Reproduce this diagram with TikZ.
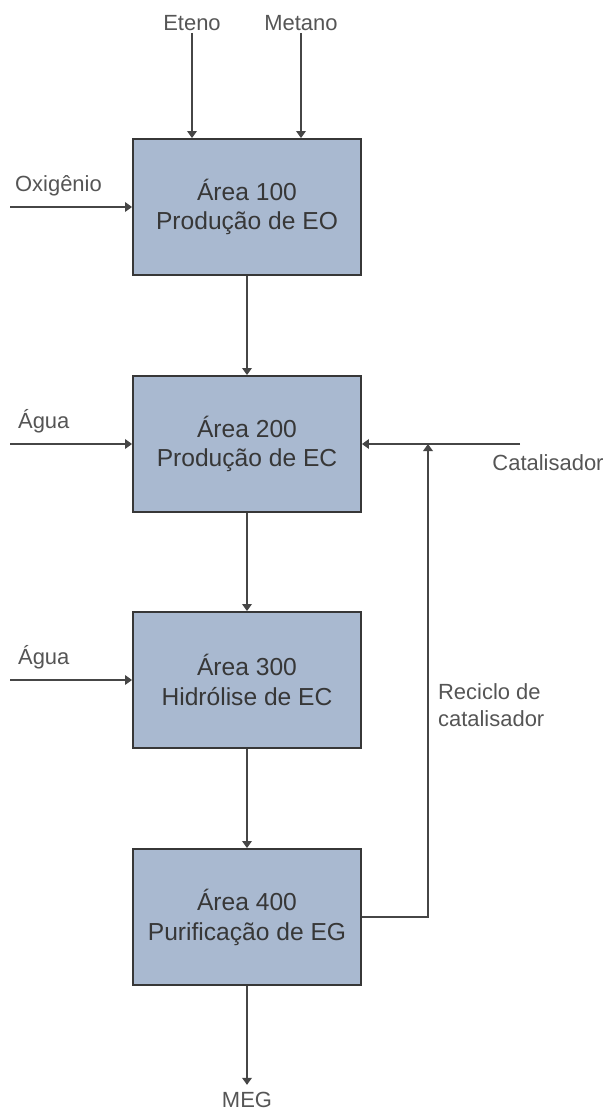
\documentclass[tikz,border=0pt]{standalone}
\usepackage{fontspec}
\setmainfont{Liberation Sans}
\usetikzlibrary{arrows.meta}

\definecolor{boxfill}{RGB}{169,185,208}
\definecolor{boxline}{RGB}{55,55,55}
\definecolor{flowline}{RGB}{70,70,70}
\definecolor{labeltext}{RGB}{85,85,85}

\tikzset{
    area/.style={draw=boxline, fill=boxfill, line width=1.1pt, minimum width=228*0.02cm,
        minimum height=136*0.02cm, align=center, text=boxline,
        font=\fontsize{14}{17}\selectfont},
    stream/.style={text=labeltext, font=\fontsize{12.5}{15.5}\selectfont, inner sep=1pt},
    flow/.style={draw=flowline, line width=0.8pt, -{Triangle[width=5.5pt,length=4pt]}}
}

\begin{document}
\begin{tikzpicture}[x=0.02cm, y=-0.02cm]
        \useasboundingbox (0,0) rectangle (606,1112);
        \def\xc{247}

        % process areas
        \node[area] (b100) at (\xc,207) {Área 100\\Produção de EO};
        \node[area] (b200) at (\xc,444) {Área 200\\Produção de EC};
        \node[area] (b300) at (\xc,680) {Área 300\\Hidrólise de EC};
        \node[area] (b400) at (\xc,917) {Área 400\\Purificação de EG};

        \draw[flow] (b100) -- (b200);
        \draw[flow] (b200) -- (b300);
        \draw[flow] (b300) -- (b400);

        % feeds of area 100
        \node[stream] (eteno) at (192,23) {Eteno};
        \node[stream] (metano) at (301,23) {Metano};
        \draw[flow] (eteno.south) -- (b100.north -| eteno.south);
        \draw[flow] (metano.south) -- (b100.north -| metano.south);
        \coordinate (oxin) at (10,207);
        \node[stream, anchor=south west] (oxi) at (13,198) {Oxigênio};
        \draw[flow] (oxin) -- (b100.west);

        % water
        \coordinate (agin1) at (10,444);
        \node[stream, anchor=south west] (agua1) at (16,435) {Água};
        \draw[flow] (agin1) -- (b200.west);
        \coordinate (agin2) at (10,680);
        \node[stream, anchor=south west] (agua2) at (16,671) {Água};
        \draw[flow] (agin2) -- (b300.west);

        % catalyst and recycle
        \coordinate (catin) at (520,444);
        \node[stream, anchor=north] (cat) at (548,452) {Catalisador};
        \draw[flow] (catin) -- (b200.east);
        \coordinate (rec) at (428,444);
        \draw[flow] (b400.east) -| (rec);
        \node[stream, anchor=north west, align=left] (reciclo) at (436,681) {Reciclo de\\catalisador};

        % product
        \node[stream, inner sep=4pt] (meg) at (\xc,1100) {MEG};
        \draw[flow] (b400) -- (meg.north);
\end{tikzpicture}
\end{document}
